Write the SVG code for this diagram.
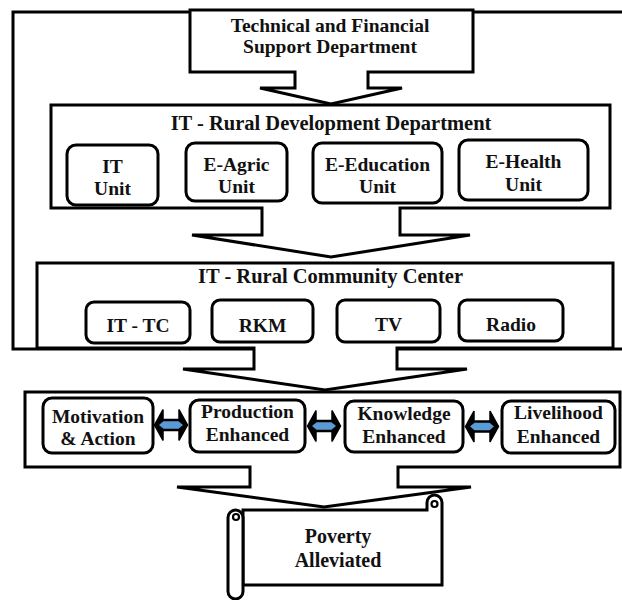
<svg xmlns="http://www.w3.org/2000/svg" width="622" height="600" viewBox="0 0 622 600">
  <defs>
    <style>
      .box { fill: #fff; stroke: #000; stroke-width: 3; stroke-linejoin: miter; }
      .unit { fill: #fff; stroke: #000; stroke-width: 3; }
      .t { font-family: "Liberation Serif", "Times New Roman", serif; font-weight: bold; font-size: 19.5px; fill: #111; text-anchor: middle; }
      .title { font-size: 20.5px; }
      .dblk { fill: #000; stroke: #000; stroke-width: 1.5; stroke-linejoin: miter; }
      .dblu { fill: #5B9BD5; }
    </style>
    <g id="dbl">
      <path class="dblk" d="M -16.5,0 L -8,-15.5 V -5.5 H 8 V -15.5 L 16.5,0 L 8,15.5 V 5.5 H -8 V 15.5 Z"/>
      <path class="dblu" d="M -12,0 L -7.5,-3.8 H 7.5 L 12,0 L 7.5,3.8 H -7.5 Z"/>
    </g>
  </defs>
  <rect width="622" height="600" fill="#fff"/>

  <!-- outer frame -->
  <g id="frame">
    <path class="box" d="M 626,12 H 13 V 349 H 626" style="fill:none"/>
  </g>

  <!-- top callout -->
  <g id="tfsd">
    <path class="box" d="M 190,10 H 473 V 72 H 368 V 88 H 402 L 331,104 L 260,88 H 295 V 72 H 190 Z"/>
    <text class="t" x="330" y="32">Technical and Financial</text>
    <text class="t" x="330" y="53">Support Department</text>
  </g>

  <!-- IT Rural Development Department -->
  <g id="itrdd">
    <path class="box" d="M 51,105 H 610 V 208 H 400 V 235 H 470 L 331,257 L 192,235 H 262 V 208 H 51 Z"/>
    <text class="t title" x="331" y="130">IT - Rural Development Department</text>
  </g>
  <g id="itunit">
    <rect class="unit" x="67" y="145" width="91" height="60" rx="9"/>
    <text class="t" x="112.5" y="173">IT</text>
    <text class="t" x="112.5" y="195">Unit</text>
  </g>
  <g id="eagric">
    <rect class="unit" x="186" y="143" width="101" height="58" rx="9"/>
    <text class="t" x="236.5" y="171">E-Agric</text>
    <text class="t" x="236.5" y="193">Unit</text>
  </g>
  <g id="eedu">
    <rect class="unit" x="313" y="143" width="129" height="60" rx="9"/>
    <text class="t" x="377.5" y="171">E-Education</text>
    <text class="t" x="377.5" y="193">Unit</text>
  </g>
  <g id="ehealth">
    <rect class="unit" x="459" y="140" width="129" height="60" rx="9"/>
    <text class="t" x="523.5" y="168">E-Health</text>
    <text class="t" x="523.5" y="191">Unit</text>
  </g>

  <!-- IT Rural Community Center -->
  <g id="itrcc">
    <path class="box" d="M 37,263 H 613 V 348 H 397 V 369 H 467 L 325,390 L 183,369 H 254 V 348 H 37 Z"/>
    <text class="t title" x="330.5" y="283">IT - Rural Community Center</text>
  </g>
  <g id="ittc">
    <rect class="unit" x="86" y="302" width="104" height="41" rx="8"/>
    <text class="t" x="138" y="332">IT - TC</text>
  </g>
  <g id="rkm">
    <rect class="unit" x="212" y="300" width="101" height="42" rx="8"/>
    <text class="t" x="262.5" y="332">RKM</text>
  </g>
  <g id="tv">
    <rect class="unit" x="337" y="300" width="103" height="42" rx="8"/>
    <text class="t" x="388.5" y="331">TV</text>
  </g>
  <g id="radio">
    <rect class="unit" x="459" y="300" width="104" height="41" rx="8"/>
    <text class="t" x="511" y="331">Radio</text>
  </g>

  <!-- outcomes row -->
  <g id="outcomes">
    <path class="box" d="M 25,392 H 620 V 467 H 398 V 487 H 471 L 324,507 L 177,487 H 250 V 467 H 25 Z"/>
  </g>
  <g id="motivation">
    <rect class="unit" x="43" y="398" width="110" height="55" rx="9"/>
    <text class="t" x="98" y="423">Motivation</text>
    <text class="t" x="98" y="445">&amp; Action</text>
  </g>
  <g id="production">
    <rect class="unit" x="190" y="400" width="115" height="52" rx="9"/>
    <text class="t" x="247.5" y="418">Production</text>
    <text class="t" x="247.5" y="441">Enhanced</text>
  </g>
  <g id="knowledge">
    <rect class="unit" x="345" y="401" width="118" height="51" rx="9"/>
    <text class="t" x="404" y="420">Knowledge</text>
    <text class="t" x="404" y="443">Enhanced</text>
  </g>
  <g id="livelihood">
    <rect class="unit" x="502" y="401" width="113" height="52" rx="9"/>
    <text class="t" x="558.5" y="419">Livelihood</text>
    <text class="t" x="558.5" y="443">Enhanced</text>
  </g>

  <!-- connectors -->
  <g id="connectors">
    <use href="#dbl" x="171" y="425"/>
    <use href="#dbl" x="324" y="426"/>
    <use href="#dbl" x="482" y="426.5"/>
  </g>

  <!-- scroll -->
  <g id="poverty">
    <path class="box" stroke-width="2.5" d="M 243,510 H 427 V 502.5 A 7.5 7.5 0 0 1 442,502.5 V 585 H 243 Z"/>
    <circle cx="434.5" cy="504" r="3" fill="#fff" stroke="#000" stroke-width="2.2"/>
    <path class="box" stroke-width="2.5" d="M 243,517.5 A 7.5 7.5 0 0 0 228,517.5 V 591.5 A 7.5 7.5 0 0 0 243,591.5 Z"/>
    <circle cx="236" cy="517" r="3" fill="#fff" stroke="#000" stroke-width="2.2"/>
    <text class="t" x="338" y="543" style="font-size:20px">Poverty</text>
    <text class="t" x="338" y="567" style="font-size:20px">Alleviated</text>
  </g>
</svg>
